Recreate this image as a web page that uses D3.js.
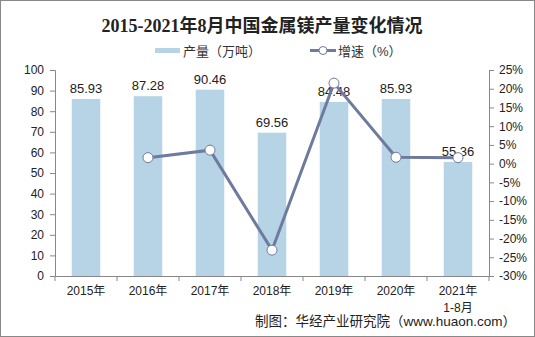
<!DOCTYPE html>
<html><head><meta charset="utf-8">
<script src="https://cdn.jsdelivr.net/npm/d3@7/dist/d3.min.js"></script>
<style>body{margin:0;background:#fff}svg{display:block}</style>
</head><body>
<script>
const categories = ["2015年","2016年","2017年","2018年","2019年","2020年","2021年"];
const subLabels = ["","","","","","","1-8月"];
const output = [85.93, 87.28, 90.46, 69.56, 84.48, 85.93, 55.36];
const growth = [null, 1.6, 3.6, -23.1, 21.5, 1.7, 1.6];
const leftTicks = [0,10,20,30,40,50,60,70,80,90,100];
const rightTicks = [-30,-25,-20,-15,-10,-5,0,5,10,15,20,25];

const W = 535, H = 337;
const svg = d3.select("body").append("svg").attr("width", W).attr("height", H);
const font = "Liberation Sans, Arial, Noto Sans CJK SC, sans-serif";
svg.append("rect").attr("x",0.5).attr("y",0.5).attr("width",W-1).attr("height",H-1)
  .attr("fill","#fff").attr("stroke","#888").attr("stroke-width",1);

const x0 = 55, x1 = 489, yTop = 70, yBot = 276;
const x = d3.scaleBand().domain(categories).range([x0, x1]).paddingInner(0.545).paddingOuter(0.2725);
const yL = d3.scaleLinear().domain([0,100]).range([yBot, yTop]);
const yR = d3.scaleLinear().domain([-30,25]).range([yBot, yTop]);
const barColor = "#b7d4e6", lineColor = "#6f7a9f";

// title
svg.append("text").attr("x", 262).attr("y", 32).attr("text-anchor","middle")
  .attr("font-family","Liberation Serif, Noto Sans CJK SC, serif").attr("font-weight","bold")
  .attr("font-size",18).attr("fill","#222").text("2015-2021年8月中国金属镁产量变化情况");

// legend
svg.append("rect").attr("x",155).attr("y",48).attr("width",25).attr("height",5).attr("fill",barColor);
svg.append("text").attr("x",183).attr("y",56).attr("font-family",font).attr("font-size",13).attr("fill","#333").text("产量（万吨）");
svg.append("line").attr("x1",310).attr("x2",336).attr("y1",50.5).attr("y2",50.5).attr("stroke",lineColor).attr("stroke-width",3);
svg.append("circle").attr("cx",323).attr("cy",50.5).attr("r",4).attr("fill","#fff").attr("stroke",lineColor).attr("stroke-width",1);
svg.append("text").attr("x",338).attr("y",56).attr("font-family",font).attr("font-size",13).attr("fill","#333").text("增速（%）");

// bars
const barW = 28.5;
svg.selectAll("rect.bar").data(output).enter().append("rect").attr("class","bar")
  .attr("x",(d,i)=>x(categories[i]) + x.bandwidth()/2 - barW/2).attr("width",barW)
  .attr("y",d=>yL(d)).attr("height",d=>yBot-yL(d)).attr("fill",barColor);
svg.selectAll("text.val").data(output).enter().append("text").attr("class","val")
  .attr("x",(d,i)=>x(categories[i]) + x.bandwidth()/2).attr("y",d=>yL(d)-6)
  .attr("text-anchor","middle").attr("font-family",font).attr("font-size",13).attr("fill","#222")
  .text(d=>d.toFixed(2));

// axes
const axL = svg.append("g").attr("transform",`translate(${x0},0)`)
  .call(d3.axisLeft(yL).tickValues(leftTicks).tickSize(5).tickPadding(6));
const axR = svg.append("g").attr("transform",`translate(${x1},0)`)
  .call(d3.axisRight(yR).tickValues(rightTicks).tickSize(5).tickPadding(5).tickFormat(d=>d+"%"));
const axB = svg.append("g").attr("transform",`translate(0,${yBot})`)
  .call(d3.axisBottom(x).tickSize(0).tickPadding(10));
[axL, axR, axB].forEach(g=>{
  g.selectAll("path,line").attr("stroke","#888");
  g.selectAll("text").attr("font-family",font).attr("font-size",12).attr("fill","#222");
});
axB.select("path").remove();
svg.append("line").attr("x1",x0).attr("x2",x1).attr("y1",yBot+0.5).attr("y2",yBot+0.5).attr("stroke","#888");
// category boundary ticks
svg.selectAll("line.ct").data(d3.range(categories.length+1)).enter().append("line").attr("class","ct")
  .attr("x1",i=>x0 + i*(x1-x0)/categories.length).attr("x2",i=>x0 + i*(x1-x0)/categories.length)
  .attr("y1",yBot).attr("y2",yBot+5).attr("stroke","#888");
svg.selectAll("text.sub").data(subLabels).enter().append("text").attr("class","sub")
  .attr("x",(d,i)=>x(categories[i]) + x.bandwidth()/2).attr("y",yBot+36)
  .attr("text-anchor","middle").attr("font-family",font).attr("font-size",12).attr("fill","#222").text(d=>d);

// line
const pts = growth.map((g,i)=>({g, c: categories[i]})).filter(d=>d.g!==null);
const line = d3.line().x(d=>x(d.c)+x.bandwidth()/2).y(d=>yR(d.g));
svg.append("path").datum(pts).attr("d",line).attr("fill","none").attr("stroke",lineColor).attr("stroke-width",3);
svg.selectAll("circle.pt").data(pts).enter().append("circle").attr("class","pt")
  .attr("cx",d=>x(d.c)+x.bandwidth()/2).attr("cy",d=>yR(d.g)).attr("r",5)
  .attr("fill","#fff").attr("stroke",lineColor).attr("stroke-width",1);

// source
svg.append("text").attr("x",516).attr("y",326).attr("text-anchor","end")
  .attr("font-family",font).attr("font-size",13.5).attr("fill","#222")
  .text("制图：华经产业研究院（www.huaon.com）");
</script>
</body></html>
